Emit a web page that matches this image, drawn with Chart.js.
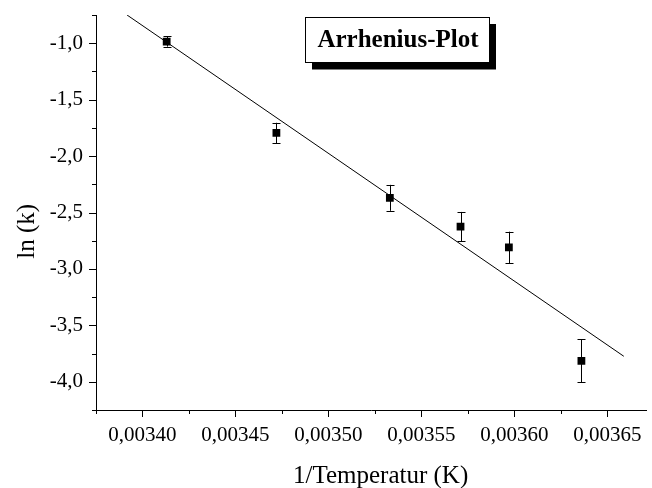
<!DOCTYPE html>
<html>
<head>
<meta charset="utf-8">
<script src="https://cdn.jsdelivr.net/npm/chart.js@4"></script>
<style>
    body { margin: 0; background: #fff; }
    #wrap { width: 652px; height: 488px; }
</style>
</head>
<body>
<div id="wrap"><canvas id="myChart"></canvas></div>
<script>
// measured points: 1/T and ln(k) with error
var invTemp = [0.003413, 0.003472, 0.003533, 0.003571, 0.003597, 0.003636];
var lnK = [-0.985, -1.795, -2.37, -2.625, -2.81, -3.815];
var lnKErr = [0.045, 0.09, 0.115, 0.13, 0.14, 0.19];

// linear fit, start and end
var fitX = [0.0033917, 0.0036588];
var fitY = [-0.75, -3.774];

var xTicks = [0.00340, 0.00345, 0.00350, 0.00355, 0.00360, 0.00365];
var yTicks = [-4.0, -3.5, -3.0, -2.5, -2.0, -1.5, -1.0];

var plotTitle = 'Arrhenius-Plot';
var serif = 'Liberation Serif';

Chart.defaults.font.family = serif;
Chart.defaults.color = '#000';

// minor ticks half way between the major ones
function minorTicks(major, min, max) {
    var step = major[1] - major[0];
    var out = [];
    for (var i = 0; i <= major.length; i++) {
        var v = (i < major.length ? major[i] : major[major.length - 1] + step) - step / 2;
        if (v >= min - step * 0.01 && v <= max + step * 0.01) out.push(v);
    }
    return out;
}

var extras = {
    id: 'extras',
    beforeDatasetsDraw: function (chart) {
        var ctx = chart.ctx;
        var ys = chart.scales.y;
        var meta = chart.getDatasetMeta(0);
        ctx.save();
        ctx.strokeStyle = '#000';
        ctx.lineWidth = 1;
        meta.data.forEach(function (pt, i) {
            var x = Math.round(pt.x) + 0.5;
            var top = ys.getPixelForValue(lnK[i] + lnKErr[i]);
            var bot = ys.getPixelForValue(lnK[i] - lnKErr[i]);
            ctx.beginPath();
            ctx.moveTo(x, top); ctx.lineTo(x, bot);
            ctx.moveTo(x - 4, Math.round(top) + 0.5); ctx.lineTo(x + 4, Math.round(top) + 0.5);
            ctx.moveTo(x - 4, Math.round(bot) + 0.5); ctx.lineTo(x + 4, Math.round(bot) + 0.5);
            ctx.stroke();
        });
        ctx.restore();
    },
    afterDraw: function (chart) {
        var ctx = chart.ctx;
        var a = chart.chartArea;
        var xs = chart.scales.x, ys = chart.scales.y;
        ctx.save();
        ctx.strokeStyle = '#000';
        ctx.lineWidth = 1;
        ctx.beginPath();
        xTicks.forEach(function (v) {
            var p = Math.round(xs.getPixelForValue(v)) + 0.5;
            ctx.moveTo(p, a.bottom); ctx.lineTo(p, a.bottom + 7);
        });
        minorTicks(xTicks, xs.min, xs.max).forEach(function (v) {
            var p = Math.round(xs.getPixelForValue(v)) + 0.5;
            ctx.moveTo(p, a.bottom); ctx.lineTo(p, a.bottom + 4);
        });
        yTicks.forEach(function (v) {
            var p = Math.round(ys.getPixelForValue(v)) + 0.5;
            ctx.moveTo(a.left - 7, p); ctx.lineTo(a.left, p);
        });
        minorTicks(yTicks, ys.min, ys.max).forEach(function (v) {
            var p = Math.round(ys.getPixelForValue(v)) + 0.5;
            ctx.moveTo(a.left - 4, p); ctx.lineTo(a.left, p);
        });
        ctx.stroke();

        // title box with drop shadow
        ctx.fillStyle = '#000';
        ctx.fillRect(312, 24, 184, 45.5);
        ctx.fillStyle = '#fff';
        ctx.fillRect(305.5, 17.5, 184, 45);
        ctx.strokeRect(305.5, 17.5, 184, 45);
        ctx.fillStyle = '#000';
        ctx.font = 'bold 25px "' + serif + '"';
        ctx.textAlign = 'center';
        ctx.textBaseline = 'alphabetic';
        ctx.fillText(plotTitle, 398, 46.5);
        ctx.restore();
    }
};

var ctx = document.getElementById('myChart').getContext('2d');
var config = {
    type: 'scatter',
    data: {
        datasets: [{
            label: 'ln(k)',
            data: invTemp.map(function (v, i) { return { x: v, y: lnK[i] }; }),
            pointStyle: 'rect',
            pointRadius: 5.5,
            backgroundColor: '#000',
            borderColor: '#000',
            borderWidth: 0
        }, {
            label: 'Fit',
            data: fitX.map(function (v, i) { return { x: v, y: fitY[i] }; }),
            showLine: true,
            pointRadius: 0,
            borderColor: '#000',
            borderWidth: 1,
            fill: false
        }]
    },
    options: {
        responsive: true,
        maintainAspectRatio: false,
        animation: false,
        layout: { padding: { top: 15, right: 0, left: 0, bottom: 0 } },
        plugins: { legend: { display: false }, tooltip: { enabled: false } },
        scales: {
            x: {
                type: 'linear',
                min: 0.003375,
                max: 0.003671,
                afterBuildTicks: function (s) { s.ticks = xTicks.map(function (v) { return { value: v }; }); },
                afterFit: function (s) { s.height = 78; s.paddingLeft = 0; s.paddingRight = 0; },
                grid: { display: false, drawTicks: false },
                border: { display: true, color: '#000', width: 1 },
                ticks: {
                    color: '#000',
                    font: { family: serif, size: 21 },
                    padding: 13,
                    maxRotation: 0,
                    autoSkip: false,
                    callback: function (v) { return v.toFixed(5).replace('.', ','); }
                },
                title: {
                    display: true,
                    text: '\u00a0\u00a0\u00a01/Temperatur (K)',
                    color: '#000',
                    font: { family: serif, size: 25 },
                    padding: { top: 0, bottom: -3 }
                }
            },
            y: {
                type: 'linear',
                min: -4.25,
                max: -0.75,
                afterBuildTicks: function (s) { s.ticks = yTicks.map(function (v) { return { value: v }; }); },
                afterFit: function (s) { s.width = 96; s.paddingTop = 0; s.paddingBottom = 0; },
                grid: { display: false, drawTicks: false },
                border: { display: true, color: '#000', width: 1 },
                ticks: {
                    color: '#000',
                    font: { family: serif, size: 21 },
                    padding: 13,
                    autoSkip: false,
                    callback: function (v) { return v.toFixed(1).replace('.', ','); }
                },
                title: {
                    display: true,
                    text: 'ln (k)\u00a0\u00a0\u00a0\u00a0\u00a0\u00a0',
                    color: '#000',
                    font: { family: serif, size: 25 },
                    padding: { top: 12, bottom: 0 }
                }
            }
        }
    },
    plugins: [extras]
};

var chart = new Chart(ctx, config);
</script>
</body>
</html>
